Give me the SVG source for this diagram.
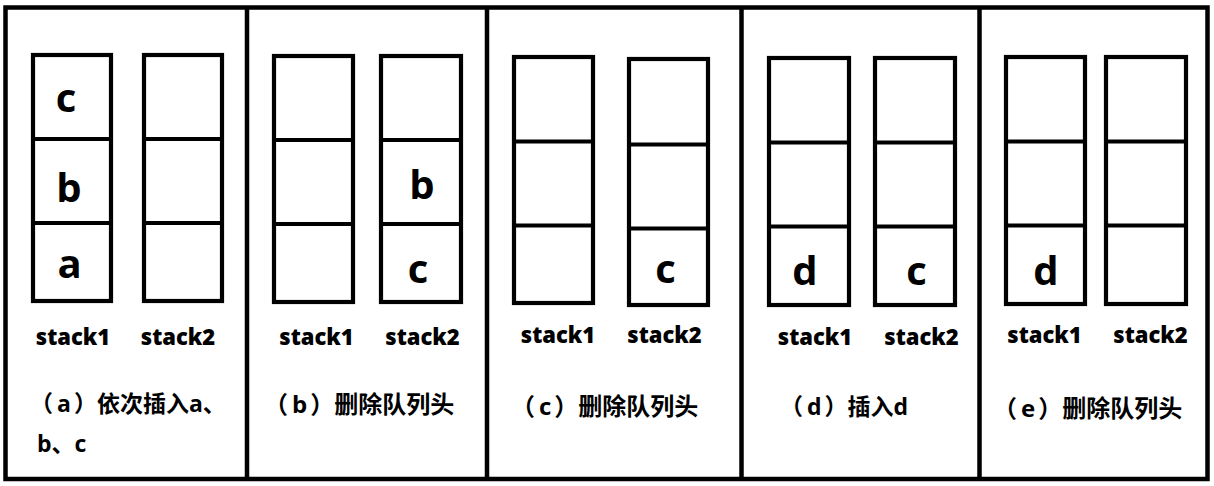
<svg xmlns="http://www.w3.org/2000/svg" width="1214" height="486" viewBox="0 0 1214 486">
<style>
.frame{fill:#fff;stroke:#000;stroke-width:4.5}
.sep{stroke:#000;stroke-width:4.5}
.box{fill:none;stroke:#000;stroke-width:4.2}
.div{stroke:#000;stroke-width:4.2}
.big{font-family:"Open Sans","Noto Sans CJK SC",sans-serif;font-weight:bold;font-size:40px;text-anchor:middle;fill:#000}
.lbl{font-family:"Open Sans","Noto Sans CJK SC",sans-serif;font-weight:800;font-size:22px;text-anchor:middle;fill:#000}
.cap{font-family:"Open Sans","Noto Sans CJK SC",sans-serif;font-weight:bold;font-size:24px;fill:#000}
</style>
<rect width="1214" height="486" fill="#fff"/>
<g id="frame">
<rect class="frame" x="5.5" y="7.5" width="1202" height="471.5"/>
<line class="sep" x1="247" y1="7.5" x2="247" y2="479"/>
<line class="sep" x1="487" y1="7.5" x2="487" y2="479"/>
<line class="sep" x1="741.5" y1="7.5" x2="741.5" y2="479"/>
<line class="sep" x1="979.5" y1="7.5" x2="979.5" y2="479"/>
</g>
<g id="connectors"></g>

<g id="panel-a">
<g id="a-stack1">
<rect class="box" x="33" y="55" width="78" height="246"/>
<line class="div" x1="33" y1="139" x2="111" y2="139"/>
<line class="div" x1="33" y1="223" x2="111" y2="223"/>
<text class="big" x="66" y="112">c</text>
<text class="big" x="69" y="202">b</text>
<text class="big" x="69.5" y="278">a</text>
</g>
<g id="a-stack2">
<rect class="box" x="144" y="55" width="78" height="246"/>
<line class="div" x1="144" y1="139" x2="222" y2="139"/>
<line class="div" x1="144" y1="223" x2="222" y2="223"/>
</g>
<text class="lbl" x="73" y="345">stack1</text>
<text class="lbl" x="178" y="345">stack2</text>
<text class="cap" style="font-size:23px" x="30" y="412">（<tspan dx="4">a</tspan><tspan dx="3">）依次插入a、</tspan></text>
<text class="cap" style="font-size:23px" x="37" y="452">b、c</text>
</g>

<g id="panel-b">
<g id="b-stack1">
<rect class="box" x="274" y="56" width="79" height="246"/>
<line class="div" x1="274" y1="140" x2="353" y2="140"/>
<line class="div" x1="274" y1="224" x2="353" y2="224"/>
</g>
<g id="b-stack2">
<rect class="box" x="381" y="56" width="80" height="246"/>
<line class="div" x1="381" y1="140" x2="461" y2="140"/>
<line class="div" x1="381" y1="224" x2="461" y2="224"/>
<text class="big" x="422" y="199">b</text>
<text class="big" x="418" y="283">c</text>
</g>
<text class="lbl" x="316.5" y="345">stack1</text>
<text class="lbl" x="422.5" y="345">stack2</text>
<text class="cap" x="264" y="413">（<tspan dx="4">b</tspan><tspan dx="3">）删除队列头</tspan></text>
</g>

<g id="panel-c">
<g id="c-stack1">
<rect class="box" x="514" y="57" width="79" height="246"/>
<line class="div" x1="514" y1="141.5" x2="593" y2="141.5"/>
<line class="div" x1="514" y1="225.5" x2="593" y2="225.5"/>
</g>
<g id="c-stack2">
<rect class="box" x="629" y="59" width="79" height="246"/>
<line class="div" x1="629" y1="144.5" x2="708" y2="144.5"/>
<line class="div" x1="629" y1="228.5" x2="708" y2="228.5"/>
<text class="big" x="665.5" y="283">c</text>
</g>
<text class="lbl" x="558" y="343">stack1</text>
<text class="lbl" x="664.5" y="343">stack2</text>
<text class="cap" x="511" y="415">（<tspan dx="4">c</tspan><tspan dx="3">）删除队列头</tspan></text>
</g>

<g id="panel-d">
<g id="d-stack1">
<rect class="box" x="769" y="58" width="80" height="247"/>
<line class="div" x1="769" y1="142.5" x2="849" y2="142.5"/>
<line class="div" x1="769" y1="226.5" x2="849" y2="226.5"/>
<text class="big" x="805" y="285">d</text>
</g>
<g id="d-stack2">
<rect class="box" x="875" y="58" width="80" height="247"/>
<line class="div" x1="875" y1="142.5" x2="955" y2="142.5"/>
<line class="div" x1="875" y1="226.5" x2="955" y2="226.5"/>
<text class="big" x="916.5" y="285">c</text>
</g>
<text class="lbl" x="815" y="345">stack1</text>
<text class="lbl" x="921.5" y="345">stack2</text>
<text class="cap" style="font-size:23px" x="780" y="415">（<tspan dx="4">d</tspan><tspan dx="3">）插入d</tspan></text>
</g>

<g id="panel-e">
<g id="e-stack1">
<rect class="box" x="1006" y="57" width="79" height="247"/>
<line class="div" x1="1006" y1="141.5" x2="1085" y2="141.5"/>
<line class="div" x1="1006" y1="225.5" x2="1085" y2="225.5"/>
<text class="big" x="1046" y="285">d</text>
</g>
<g id="e-stack2">
<rect class="box" x="1106" y="57" width="80" height="247"/>
<line class="div" x1="1106" y1="141.5" x2="1186" y2="141.5"/>
<line class="div" x1="1106" y1="225.5" x2="1186" y2="225.5"/>
</g>
<text class="lbl" x="1044.5" y="343">stack1</text>
<text class="lbl" x="1150.5" y="343">stack2</text>
<text class="cap" x="993" y="417">（<tspan dx="4">e</tspan><tspan dx="3">）删除队列头</tspan></text>
</g>
</svg>
